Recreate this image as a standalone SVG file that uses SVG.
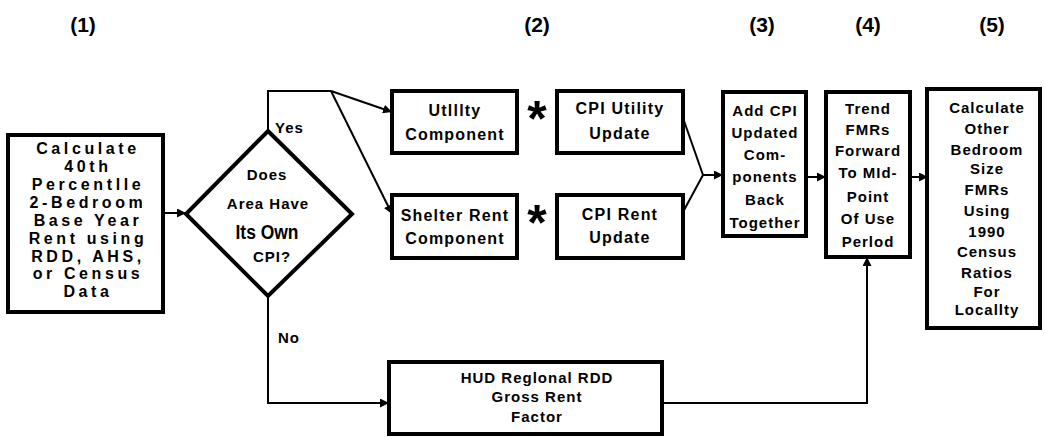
<svg xmlns="http://www.w3.org/2000/svg" width="1045" height="437" viewBox="0 0 1045 437">
<defs>
<marker id="ah" viewBox="0 0 10 10" refX="10" refY="5" markerWidth="9" markerHeight="9" markerUnits="userSpaceOnUse" orient="auto">
<path d="M0,0 L10,5 L0,10 z" fill="#000"/>
</marker>
<style>
.box{fill:#fff;stroke:#000;stroke-width:4}
.t{font-family:"Liberation Sans",Arial,sans-serif;font-weight:bold;fill:#000;text-anchor:middle}
.w{font-size:16px;letter-spacing:3.6px}
.m{font-size:16px;letter-spacing:1.2px}
.s{font-size:15px;letter-spacing:1px}
.h{font-size:21px}
.c{stroke:#000;stroke-width:2;fill:none}
.star{font-family:"Liberation Sans",Arial,sans-serif;font-weight:bold;font-size:50px;text-anchor:middle}
</style>
</defs>
<g id="headers">
<text class="t h" x="83" y="32">(1)</text>
<text class="t h" x="537" y="32">(2)</text>
<text class="t h" x="762" y="32">(3)</text>
<text class="t h" x="868" y="32">(4)</text>
<text class="t h" x="992" y="32">(5)</text>
</g>
<g id="connectors">
<line class="c" x1="163" y1="213" x2="186" y2="213" marker-end="url(#ah)"/>
<polyline class="c" points="268,131 268,91 331,91"/>
<line class="c" x1="331" y1="91" x2="392" y2="112" marker-end="url(#ah)"/>
<line class="c" x1="331" y1="91" x2="392" y2="214" marker-end="url(#ah)"/>
<line class="c" x1="683" y1="118" x2="703" y2="175"/>
<line class="c" x1="683" y1="212" x2="703" y2="175"/>
<line class="c" x1="703" y1="175" x2="723" y2="175" marker-end="url(#ah)"/>
<line class="c" x1="806" y1="177" x2="826" y2="177" marker-end="url(#ah)"/>
<line class="c" x1="910" y1="177" x2="928" y2="177" marker-end="url(#ah)"/>
<polyline class="c" points="268,296 268,403 389,403" marker-end="url(#ah)"/>
<polyline class="c" points="662,403 867,403 867,257" marker-end="url(#ah)"/>
<text class="t s" x="275" y="133" style="text-anchor:start">Yes</text>
<text class="t s" x="278" y="343" style="text-anchor:start">No</text>
<text class="star" x="537" y="136">*</text>
<text class="star" x="537" y="240">*</text>
</g>
<g id="n1">
<rect class="box" x="8" y="135" width="155" height="177"/>
<text class="t w" x="88" y="154">Calculate</text>
<text class="t w" x="88" y="172">40th</text>
<text class="t w" x="88" y="190">Percentlle</text>
<text class="t w" x="88" y="208">2-Bedroom</text>
<text class="t w" x="88" y="226">Base Year</text>
<text class="t w" x="88" y="244">Rent using</text>
<text class="t w" x="88" y="262">RDD, AHS,</text>
<text class="t w" x="88" y="279">or Census</text>
<text class="t w" x="88" y="297">Data</text>
</g>
<g id="decision">
<polygon class="box" points="268,131 352,214 268,296 186,214"/>
<text class="t s" x="267" y="180">Does</text>
<text class="t s" x="268" y="209">Area Have</text>
<text class="t" x="267" y="239" style="font-size:20px" textLength="63" lengthAdjust="spacingAndGlyphs">Its Own</text>
<text class="t s" x="272" y="262">CPI?</text>
</g>
<g id="utility">
<rect class="box" x="392" y="91" width="125" height="62"/>
<text class="t m" x="455" y="116">Utlllty</text>
<text class="t m" x="455" y="140">Component</text>
</g>
<g id="shelter">
<rect class="box" x="392" y="195" width="125" height="63"/>
<text class="t m" x="455" y="221">Shelter Rent</text>
<text class="t m" x="455" y="244">Component</text>
</g>
<g id="cpiutil">
<rect class="box" x="557" y="91" width="126" height="62"/>
<text class="t m" x="620" y="114">CPI Utility</text>
<text class="t m" x="620" y="139">Update</text>
</g>
<g id="cpirent">
<rect class="box" x="557" y="195" width="126" height="63"/>
<text class="t m" x="620" y="220">CPI Rent</text>
<text class="t m" x="620" y="243">Update</text>
</g>
<g id="n3">
<rect class="box" x="723" y="92" width="83" height="144"/>
<text class="t s" x="765" y="116">Add CPI</text>
<text class="t s" x="765" y="138">Updated</text>
<text class="t s" x="765" y="160">Com-</text>
<text class="t s" x="765" y="182">ponents</text>
<text class="t s" x="765" y="205">Back</text>
<text class="t s" x="765" y="228">Together</text>
</g>
<g id="n4">
<rect class="box" x="826" y="92" width="84" height="165"/>
<text class="t s" x="868" y="114">Trend</text>
<text class="t s" x="868" y="135">FMRs</text>
<text class="t s" x="868" y="156">Forward</text>
<text class="t s" x="868" y="178">To MId-</text>
<text class="t s" x="868" y="202">Point</text>
<text class="t s" x="868" y="224">Of Use</text>
<text class="t s" x="868" y="247">Perlod</text>
</g>
<g id="n5">
<rect class="box" x="927" y="89" width="113" height="239"/>
<text class="t s" x="987" y="113">Calculate</text>
<text class="t s" x="987" y="134">Other</text>
<text class="t s" x="987" y="155">Bedroom</text>
<text class="t s" x="987" y="174">Size</text>
<text class="t s" x="987" y="195">FMRs</text>
<text class="t s" x="987" y="216">Using</text>
<text class="t s" x="987" y="237">1990</text>
<text class="t s" x="987" y="257">Census</text>
<text class="t s" x="987" y="278">Ratios</text>
<text class="t s" x="987" y="297">For</text>
<text class="t s" x="987" y="315">Locallty</text>
</g>
<g id="hud">
<rect class="box" x="389" y="362" width="273" height="72"/>
<text class="t s" x="537" y="383">HUD Reglonal RDD</text>
<text class="t s" x="537" y="402">Gross Rent</text>
<text class="t s" x="537" y="422">Factor</text>
</g>
</svg>
